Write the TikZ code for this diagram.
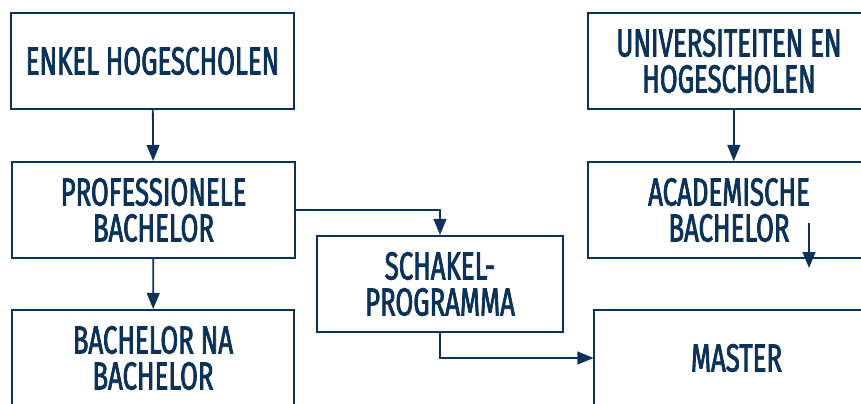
\documentclass[tikz,border=0pt]{standalone}
\usepackage{fontspec}
\setmainfont{Fira Sans}
\newfontfamily\boxfont{Fira Sans}[FakeStretch=0.66, FakeBold=2]
\usetikzlibrary{arrows.meta}
\definecolor{navy}{RGB}{12,51,87}
\begin{document}
\begin{tikzpicture}[
        x=0.025cm, y=-0.025cm,
        box/.style={rectangle, draw=navy, line width=0.05cm, fill=white, text=navy, align=center, inner sep=0pt, minimum width=7.05cm, minimum height=2.4cm, font=\boxfont\fontsize{27.8}{25.6}\selectfont},
        flow/.style={draw=navy, line width=0.045cm, -{Triangle[length=0.4cm, width=0.32cm]}}
    ]
        \useasboundingbox (0,0) rectangle (861,403);
        \clip (0,0) rectangle (861,403);

        % left column: hogescholen
        \node[box] (enkel) at (152.5,61) {ENKEL HOGESCHOLEN};
        \node[box] (prof) at (153.5,210) {PROFESSIONELE\\BACHELOR};
        \node[box] (banb) at (153,358) {BACHELOR NA\\BACHELOR};
        \draw[flow] (enkel) -- (prof);
        \draw[flow] (prof) -- (banb);

        % right column: universiteiten
        \node[box] (univ) at (729,61) {UNIVERSITEITEN EN\\HOGESCHOLEN};
        \node[box] (acad) at (729,210) {ACADEMISCHE\\BACHELOR};
        \node[box, minimum width=7.1cm] (master) at (736.5,358) {MASTER};
        \draw[flow] ([xshift=0.12cm]univ.south) -- ([xshift=0.12cm]acad.north);
        \coordinate (acadtail) at (809,223);
        \coordinate (acadtip) at (809,268);
        \draw[flow] (acadtail) -- (acadtip);

        % middle: schakelprogramma
        \node[box, minimum width=6.15cm] (schakel) at (440,284) {SCHAKEL-\\PROGRAMMA};
        \draw[flow] (prof.east) -| (schakel.north);
        \draw[flow] (schakel.south) |- (master.west);

    \end{tikzpicture}
\end{document}
